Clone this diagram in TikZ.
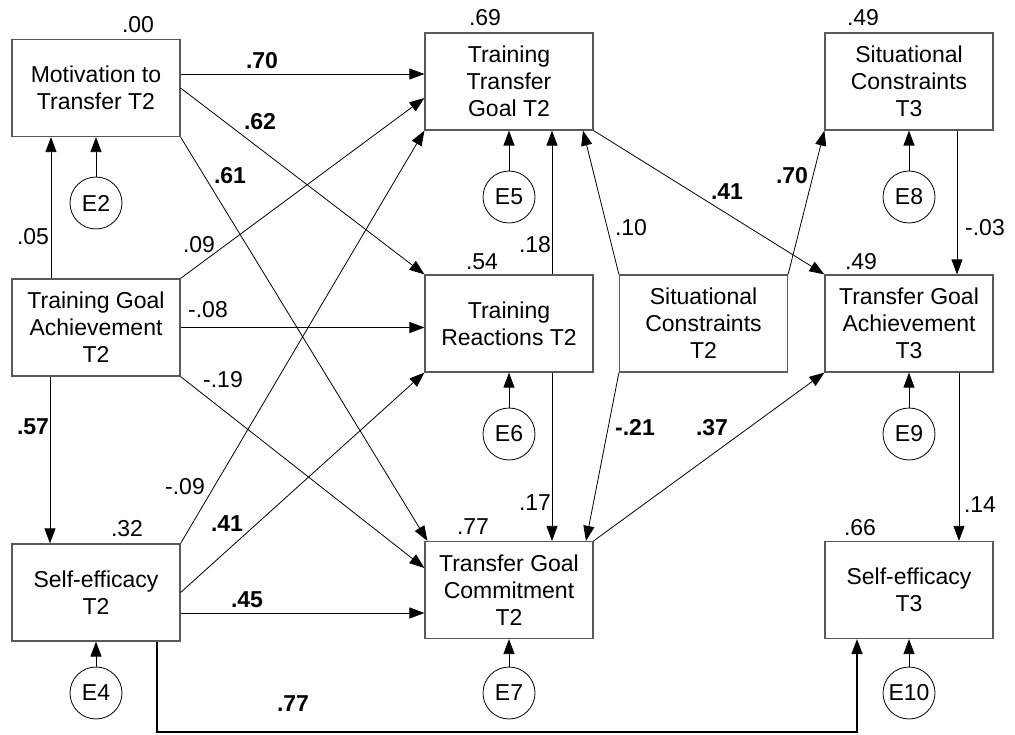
\documentclass[tikz,border=0pt]{standalone}
\usepackage{fontspec}
\setmainfont{Liberation Sans}
\usetikzlibrary{arrows.meta}
\begin{document}
\begin{tikzpicture}[x=1pt,y=-1pt,
  var/.style={draw=black!65, line width=1.2pt, minimum width=168pt, minimum height=97pt,
    align=center, inner sep=0pt, font=\fontsize{23}{27}\selectfont},
  err/.style={draw, circle, line width=0.8pt, minimum size=52pt, inner sep=0pt,
    font=\fontsize{23}{27}\selectfont},
  link/.style={line width=0.8pt, -{Triangle[length=15pt,width=11pt]}},
  coef/.style={inner sep=0pt, font=\fontsize{23}{27}\selectfont},
  bcoef/.style={inner sep=0pt, font=\fontsize{23}{27}\selectfont\bfseries}
]
\useasboundingbox (0,0) rectangle (1015,735);

% observed variables
\node[var] (mt)   at (96,88)    {Motivation to\\Transfer T2};
\node[var] (tga)  at (96,327.5) {Training Goal\\Achievement\\T2};
\node[var] (se2)  at (96,592.5) {Self-efficacy\\T2};
\node[var] (ttg)  at (509,81.5) {Training\\Transfer\\Goal T2};
\node[var] (tr)   at (509,323.5){Training\\Reactions T2};
\node[var] (tgc)  at (509,590)  {Transfer Goal\\Commitment\\T2};
\node[var] (sc2)  at (703.5,323.5){Situational\\Constraints\\T2};
\node[var] (sc3)  at (909,81.5) {Situational\\Constraints\\T3};
\node[var] (tga3) at (909,323.5){Transfer Goal\\Achievement\\T3};
\node[var] (se3)  at (909,590)  {Self-efficacy\\T3};

% error terms
\node[err] (e2)  at (96,203)  {E2};
\node[err] (e5)  at (509,197) {E5};
\node[err] (e8)  at (909,197) {E8};
\node[err] (e6)  at (509,434) {E6};
\node[err] (e9)  at (909,434) {E9};
\node[err] (e4)  at (96,693)  {E4};
\node[err] (e7)  at (509,693) {E7};
\node[err] (e10) at (909,693) {E10};

\foreach \e/\v in {e2/mt, e5/ttg, e8/sc3, e6/tr, e9/tga3, e4/se2, e7/tgc, e10/se3}
  \draw[link] (\e) -- (\e |- \v.south);

% structural paths
\draw[link] ([yshift=14pt]mt.east) -- ([yshift=14pt]mt.east -| ttg.west);
\draw[link] (mt.east) -- (tr.north west);
\draw[link] (mt.south east) -- ([xshift=3pt]tgc.north west);
\draw[link] ([xshift=-45pt]tga.north) -- ([xshift=-45pt]tga.north |- mt.south);
\draw[link] (tga.north east) -- ([yshift=-16.5pt]ttg.west);
\draw[link] (tga.east) -- (tga.east -| tr.west);
\draw[link] (tga.south east) -- ([yshift=22pt]tgc.west);
\draw[link] ([xshift=-46pt]tga.south) -- ([xshift=-46pt]tga.south |- se2.north);
\draw[link] (se2.north east) -- (ttg.south west);
\draw[link] (se2.east) -- (tr.south west);
\draw[link] ([yshift=-20.5pt]se2.east) -- ([yshift=-20.5pt]se2.east -| tgc.west);
\draw[link] ([xshift=43pt]tr.north) -- ([xshift=43pt]tr.north |- ttg.south);
\draw[link] ([xshift=43pt]tr.south) -- ([xshift=43pt]tr.south |- tgc.north);
\draw[link] (sc2.north west) -- ([xshift=74pt]ttg.south);
\draw[link] (sc2.north east) -- (sc3.south west);
\draw[link] (sc2.south west) -- ([xshift=77pt]tgc.north);
\draw[link] (ttg.south east) -- (tga3.north west);
\draw[link] (tgc.north east) -- (tga3.south west);
\draw[link] ([xshift=48pt]sc3.south) -- ([xshift=48pt]sc3.south |- tga3.north);
\draw[link] ([xshift=50pt]tga3.south) -- ([xshift=50pt]tga3.south |- se3.north);

% long path from Self-efficacy T2 to Self-efficacy T3
\coordinate (low) at (0,732);
\draw[link, line width=1.6pt] ([xshift=61pt]se2.south) -- ([xshift=61pt]se2.south |- low)
  -| ([xshift=-52pt]se3.south);

% squared multiple correlations
\node[coef] (r1) at (138,25)  {.00};
\node[coef] (r2) at (485,18)  {.69};
\node[coef] (r3) at (863,18)  {.49};
\node[coef] (r4) at (482,262) {.54};
\node[coef] (r5) at (861,262) {.49};
\node[coef] (r6) at (127,529) {.32};
\node[coef] (r7) at (473,527) {.77};
\node[coef] (r8) at (860,528) {.66};

% path coefficients
\node[bcoef] (c1)  at (262,61)  {.70};
\node[bcoef] (c2)  at (260,122) {.62};
\node[bcoef] (c3)  at (230,176) {.61};
\node[coef]  (c4)  at (33,237)  {.05};
\node[coef]  (c5)  at (199,245) {.09};
\node[coef]  (c6)  at (208,310) {-.08};
\node[coef]  (c7)  at (223,380) {-.19};
\node[bcoef] (c8)  at (33,427)  {.57};
\node[coef]  (c9)  at (185,487) {-.09};
\node[bcoef] (c10) at (227,524) {.41};
\node[bcoef] (c11) at (247,600) {.45};
\node[bcoef] (c12) at (293,704) {.77};
\node[coef]  (c13) at (535,245) {.18};
\node[coef]  (c14) at (631,228) {.10};
\node[bcoef] (c15) at (727,192) {.41};
\node[bcoef] (c16) at (792,176) {.70};
\node[coef]  (c17) at (985,228) {-.03};
\node[coef]  (c18) at (535,503) {.17};
\node[bcoef] (c19) at (635,427) {-.21};
\node[bcoef] (c20) at (712,428) {.37};
\node[coef]  (c21) at (980,505) {.14};
\end{tikzpicture}
\end{document}
